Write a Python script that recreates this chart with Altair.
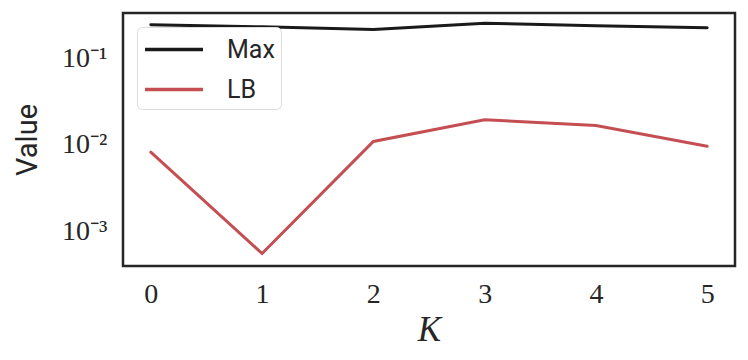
import altair as alt
import pandas as pd

k_values = [0, 1, 2, 3, 4, 5]
max_values = [0.245, 0.232, 0.216, 0.255, 0.239, 0.226]
lb_values = [0.0082, 0.00055, 0.0109, 0.0195, 0.0167, 0.0096]
series_names = ["Max", "LB"]
series_colors = ["#1a1a1a", "#c44e52"]
y_tick_values = [0.001, 0.01, 0.1]

rows = []
for k, v in zip(k_values, max_values):
    rows.append({"K": k, "Value": v, "Series": "Max"})
for k, v in zip(k_values, lb_values):
    rows.append({"K": k, "Value": v, "Series": "LB"})
df = pd.DataFrame(rows)

label_expr = ("datum.value < 0.005 ? '10\u207b\u00b3' : "
              "(datum.value < 0.05 ? '10\u207b\u00b2' : '10\u207b\u00b9')")

chart = alt.Chart(df).mark_line(strokeWidth=3, strokeCap="round").encode(
    x=alt.X("K:Q",
            scale=alt.Scale(domain=[-0.25, 5.25], nice=False, zero=False),
            axis=alt.Axis(values=k_values, format="d", title="K",
                          titleFont="Liberation Serif", titleFontStyle="italic",
                          titleFontWeight="normal", titleFontSize=35,
                          titlePadding=4, labelPadding=14)),
    y=alt.Y("Value:Q",
            scale=alt.Scale(type="log", domain=[3.94e-4, 0.335], nice=False),
            axis=alt.Axis(values=y_tick_values, labelExpr=label_expr,
                          title="Value", titleFont="Roboto",
                          titleFontWeight="normal", titleFontSize=29,
                          titlePadding=19, labelPadding=16)),
    color=alt.Color("Series:N",
                    scale=alt.Scale(domain=series_names, range=series_colors),
                    sort=series_names,
                    legend=alt.Legend(title=None, orient="none",
                                      legendX=14, legendY=14,
                                      symbolType="M-1,0H3", symbolSize=841,
                                      symbolStrokeWidth=3.5,
                                      labelFont="Roboto", labelFontSize=25,
                                      labelColor="#262626",
                                      labelOffset=51, rowPadding=10,
                                      padding=6,
                                      fillColor="white", strokeColor="#dcdcdc",
                                      cornerRadius=5)),
).properties(
    width=612, height=253,
    autosize=alt.AutoSizeParams(type="none"),
    padding={"left": 115, "top": 5, "right": 4, "bottom": 86},
).configure_view(
    stroke="#262626", strokeWidth=2.5
).configure_axis(
    domain=False, grid=False, ticks=False,
    labelFont="Liberation Serif", labelFontSize=28, labelColor="#262626",
    titleColor="#262626"
)

chart.save("out.html", embed_options={"renderer": "svg", "actions": False})
